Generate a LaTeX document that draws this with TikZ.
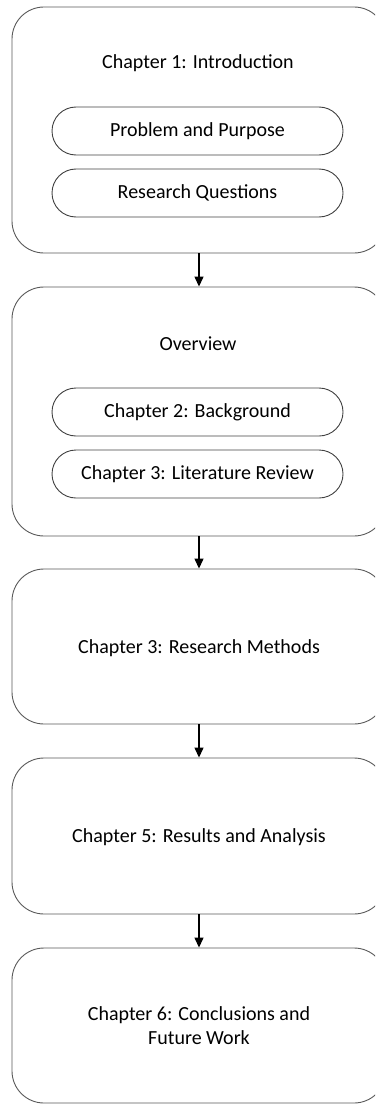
\documentclass[tikz,border=0pt]{standalone}
\usepackage{fontspec}
\setmainfont{Carlito}
\usetikzlibrary{arrows.meta}

\tikzset{
  chapterbox/.style={draw=black!65, line width=0.9pt, rounded corners=32pt,
    minimum width=374pt, align=center, text depth=0pt, font=\fontsize{20}{24}\selectfont},
  partbox/.style={draw=black!75, line width=0.9pt, rounded corners=24pt,
    minimum width=291pt, minimum height=48pt, font=\fontsize{20}{24}\selectfont},
  titletext/.style={font=\fontsize{20}{24}\selectfont},
  flow/.style={-{Triangle[width=9pt,length=10pt]}, line width=1.3pt, black},
}

\begin{document}
\begin{tikzpicture}[x=1pt, y=-1pt]
\path[use as bounding box, clip] (0,0) rectangle (375,1105);

%% chapter 1 %%
\node[chapterbox, minimum height=246pt] (intro) at (199,130) {};
\node[titletext] (introtitle) at (198,63) {Chapter 1: Introduction};
\node[partbox] (problem) at (197.5,131) {Problem and Purpose};
\node[partbox] (questions) at (197.5,193) {Research Questions};

%% overview %%
\node[chapterbox, minimum height=249pt] (overview) at (199,411.5) {};
\node[titletext] (overviewtitle) at (198,344) {Overview};
\node[partbox] (background) at (197.5,412) {Chapter 2: Background};
\node[partbox] (literature) at (197.5,474) {Chapter 3: Literature Review};

%% remaining chapters %%
\node[chapterbox, minimum height=155pt] (methods) at (199,646.5) {Chapter 3: Research Methods};
\node[chapterbox, minimum height=156pt] (results) at (199,836) {Chapter 5: Results and Analysis};
\node[chapterbox, minimum height=155pt] (conclusions) at (199,1025.5) {Chapter 6: Conclusions and\\ Future Work};

%% arrows %%
\draw[flow] (intro) -- (overview);
\draw[flow] (overview) -- (methods);
\draw[flow] (methods) -- (results);
\draw[flow] (results) -- (conclusions);

\end{tikzpicture}
\end{document}
